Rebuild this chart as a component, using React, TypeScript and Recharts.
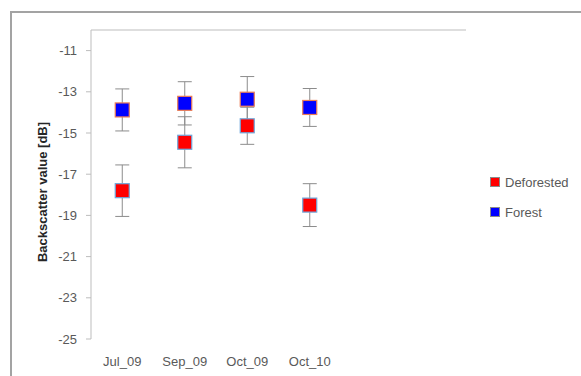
import React from 'react';
import {
  ScatterChart,
  Scatter,
  XAxis,
  YAxis,
  ErrorBar,
  Legend,
} from 'recharts';

// Acquisition dates shown along the horizontal axis
const categories = ['Jul_09', 'Sep_09', 'Oct_09', 'Oct_10'];
// The axis is split into six equal slots; only the first four are used
const slotCount = 6;

// Mean backscatter (dB) and its spread for each class
const deforestedMean = [-17.8, -15.45, -14.65, -18.5];
const deforestedErr = [1.25, 1.24, 0.9, 1.04];
const forestMean = [-13.88, -13.56, -13.36, -13.76];
const forestErr = [1.02, 1.05, 1.1, 0.92];

// Vertical axis ticks
const yTicks = [-25, -23, -21, -19, -17, -15, -13, -11];
const yDomain: [number, number] = [-25, -10];

const deforestedData = categories.map((c, i) => ({
  name: c,
  x: i + 0.5,
  y: deforestedMean[i],
  err: deforestedErr[i],
}));
const forestData = categories.map((c, i) => ({
  name: c,
  x: i + 0.5,
  y: forestMean[i],
  err: forestErr[i],
}));

const slotEdges = Array.from({ length: slotCount + 1 }, (_, i) => i);
const slotCenters = categories.map((_, i) => i + 0.5);

const FONT = '"Liberation Sans", Arial, sans-serif';
const AXIS_GREY = '#bdbdbd';
const TEXT_GREY = '#595959';

const squareShape = (fill: string, stroke: string) => (props: any) => {
  const { cx, cy } = props;
  const s = 14;
  return (
    <rect
      x={cx - s / 2}
      y={cy - s / 2}
      width={s}
      height={s}
      fill={fill}
      stroke={stroke}
      strokeWidth={1.2}
    />
  );
};

const LegendBox = (props: any) => {
  const { payload } = props;
  return (
    <div style={{ fontFamily: FONT, fontSize: 13, color: TEXT_GREY }}>
      {(payload || []).map((p: any) => (
        <div
          key={p.value}
          style={{ display: 'flex', alignItems: 'center', height: 30 }}
        >
          <span
            style={{
              display: 'inline-block',
              width: 8,
              height: 8,
              background: p.color,
              border: '1px solid #8a8a8a',
              marginRight: 5,
            }}
          />
          <span>{p.value}</span>
        </div>
      ))}
    </div>
  );
};

const YLabel = () => {
  const cx = 42;
  const cy = 192;
  return (
    <text
      x={cx}
      y={cy}
      transform={`rotate(-90, ${cx}, ${cy})`}
      textAnchor="middle"
      dominantBaseline="central"
      fontFamily={FONT}
      fontSize={13}
      fontWeight="bold"
      fill="#262626"
    >
      Backscatter value [dB]
    </text>
  );
};

export default function App() {
  return (
    <div
      style={{
        position: 'fixed',
        left: 0,
        top: 0,
        width: 581,
        height: 376,
        overflow: 'hidden',
        background: '#fff',
      }}
    >
      <div
        style={{
          position: 'absolute',
          left: 10,
          top: 11,
          width: 620,
          height: 420,
          border: '2px solid #a3a3a3',
          boxSizing: 'border-box',
        }}
      />
      <div style={{ position: 'absolute', left: 0, top: 0 }}>
        <ScatterChart
          width={581}
          height={376}
          margin={{ top: 30, right: 115, bottom: 7, left: 0 }}
        >
          <XAxis
            xAxisId="top"
            orientation="top"
            type="number"
            dataKey="x"
            domain={[0, slotCount]}
            ticks={slotEdges}
            height={1}
            mirror
            tick={false}
            tickSize={4}
            axisLine={{ stroke: AXIS_GREY }}
            tickLine={{ stroke: AXIS_GREY }}
          />
          <XAxis
            xAxisId="bottom"
            orientation="bottom"
            type="number"
            dataKey="x"
            domain={[0, slotCount]}
            ticks={slotCenters}
            height={30}
            axisLine={false}
            tickLine={false}
            tickMargin={12}
            tickFormatter={(v: number) => categories[Math.floor(v)] ?? ''}
            tick={{ fill: TEXT_GREY, fontSize: 13, fontFamily: FONT }}
          />
          <YAxis
            type="number"
            dataKey="y"
            domain={yDomain}
            ticks={yTicks}
            width={91}
            tickSize={5}
            tickMargin={9}
            axisLine={{ stroke: AXIS_GREY }}
            tickLine={{ stroke: AXIS_GREY }}
            tick={{ fill: TEXT_GREY, fontSize: 13, fontFamily: FONT }}
            label={{ content: <YLabel /> }}
          />
          <Legend
            layout="vertical"
            align="center"
            verticalAlign="middle"
            wrapperStyle={{ left: 490, top: 167, width: 91 }}
            content={<LegendBox />}
          />
          <Scatter
            name="Deforested"
            data={deforestedData}
            xAxisId="bottom"
            fill="#ff0000"
            shape={squareShape('#ff0000', '#6fa8dc')}
            isAnimationActive={false}
          >
            <ErrorBar
              dataKey="err"
              direction="y"
              width={7}
              stroke="#8c8c8c"
              strokeWidth={1}
              isAnimationActive={false}
            />
          </Scatter>
          <Scatter
            name="Forest"
            data={forestData}
            xAxisId="bottom"
            fill="#0000ff"
            shape={squareShape('#0000ff', '#ec7c55')}
            isAnimationActive={false}
          >
            <ErrorBar
              dataKey="err"
              direction="y"
              width={7}
              stroke="#8c8c8c"
              strokeWidth={1}
              isAnimationActive={false}
            />
          </Scatter>
        </ScatterChart>
      </div>
    </div>
  );
}
